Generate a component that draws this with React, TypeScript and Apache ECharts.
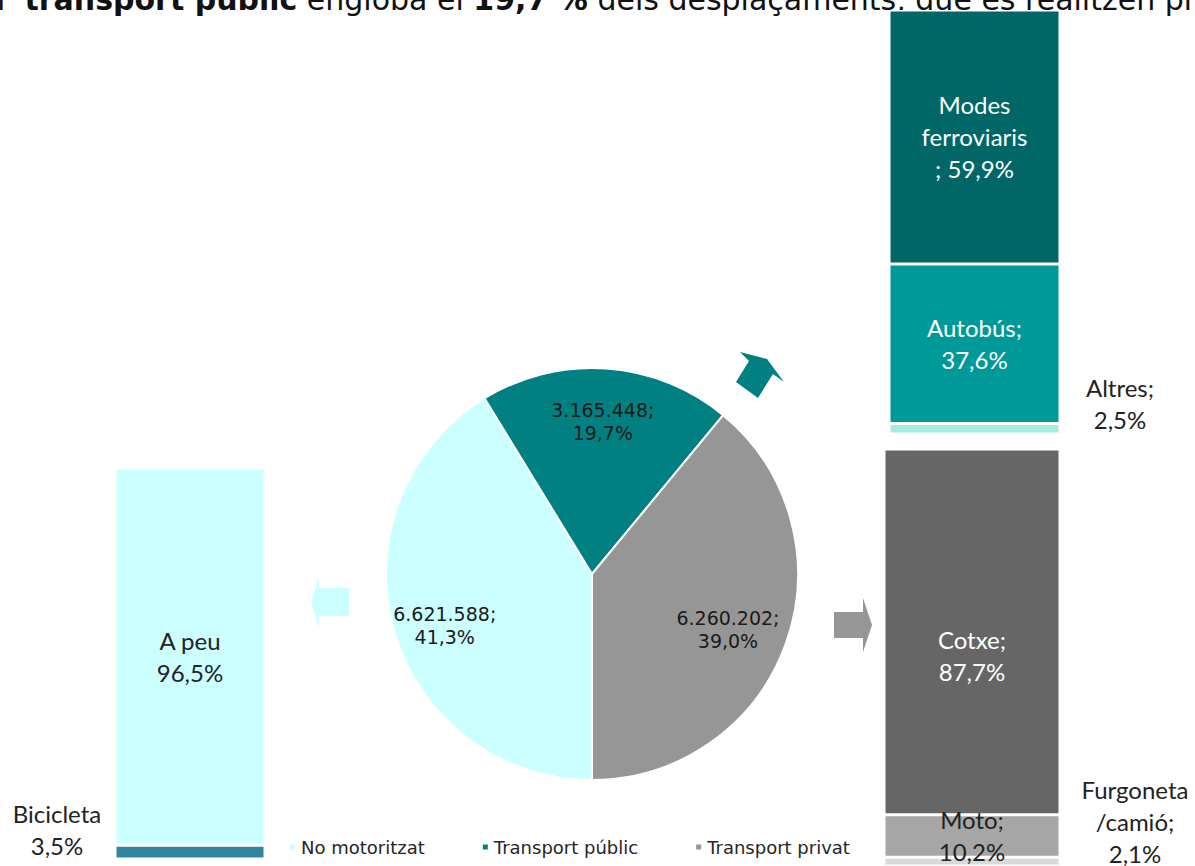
import React, { useEffect, useRef } from "react";
import * as echarts from "echarts";

// ---- Pie data ----
const pieNames = ["No motoritzat", "Transport públic", "Transport privat"];
const pieValues = [6621588, 3165448, 6260202];
const pieColors = ["#CCFFFF", "#008080", "#969696"];

// ---- No motoritzat breakdown (bottom to top) ----
const noMotorNames = ["Bicicleta", "A peu"];
const noMotorValues = [3.5, 96.5];
const noMotorTemplates = ["Bicicleta\n{v}", "A peu\n{v}"];
const noMotorColors = ["#31859C", "#CCFFFF"];

// ---- Transport públic breakdown (bottom to top) ----
const publicNames = ["Altres", "Autobús", "Modes ferroviaris"];
const publicValues = [2.5, 37.6, 59.9];
const publicTemplates = ["Altres;\n{v}", "Autobús;\n{v}", "Modes\nferroviaris\n; {v}"];
const publicColors = ["#A3EDE0", "#009999", "#006666"];

// ---- Transport privat breakdown (bottom to top) ----
const privateNames = ["Furgoneta/camió", "Moto", "Cotxe"];
const privateValues = [2.1, 10.2, 87.7];
const privateTemplates = ["Furgoneta\n/camió;\n{v}", "Moto;\n{v}", "Cotxe;\n{v}"];
const privateColors = ["#D9D9D9", "#A6A6A6", "#666666"];

const fmtPct = (v: number) => v.toFixed(1).replace(".", ",") + "%";
const fmtThousands = (v: number) => String(v).replace(/\B(?=(\d{3})+(?!\d))/g, ".");

const LABEL_FONT = "Lato, 'Open Sans', sans-serif";
const VERDANA = "'DejaVu Sans', Verdana, sans-serif";
const DARK = "#222222";

function buildStack(
  gridIndex: number,
  names: string[],
  values: number[],
  templates: string[],
  colors: string[],
  labelOpts: any[]
) {
  return names.map((n, i) => ({
    type: "bar",
    name: n,
    xAxisIndex: gridIndex,
    yAxisIndex: gridIndex,
    stack: "s" + gridIndex,
    barWidth: "100%",
    data: [values[i]],
    itemStyle: { color: colors[i], borderColor: "#ffffff", borderWidth: 1.5 },
    label: {
      show: true,
      formatter: () => templates[i].replace("{v}", fmtPct(values[i])),
      fontFamily: LABEL_FONT,
      fontSize: 24,
      lineHeight: 32,
      ...labelOpts[i],
    },
    silent: true,
  }));
}

export default function App() {
  const ref = useRef<HTMLDivElement>(null);

  useEffect(() => {
    if (!ref.current) return;
    const chart = echarts.init(ref.current, undefined, { renderer: "svg" });
    const total = pieValues.reduce((a, b) => a + b, 0);

    const grids = [
      { left: 115, top: 468, width: 150, height: 391 },
      { left: 889, top: 10, width: 171, height: 424 },
      { left: 884, top: 449, width: 176, height: 418 },
    ];

    const xAxes = grids.map((_, i) => ({
      type: "category",
      gridIndex: i,
      data: ["x"],
      show: false,
    }));
    const yAxes = grids.map((_, i) => ({
      type: "value",
      gridIndex: i,
      min: 0,
      max: 100,
      show: false,
    }));

    const series: any[] = [
      {
        type: "pie",
        name: "pie",
        center: [592, 574],
        radius: 206,
        startAngle: 270,
        clockwise: true,
        silent: true,
        label: { show: false },
        labelLine: { show: false },
        itemStyle: { borderColor: "#ffffff", borderWidth: 2 },
        data: pieNames.map((n, i) => ({
          name: n,
          value: pieValues[i],
          itemStyle: { color: pieColors[i] },
        })),
      },
      {
        type: "pie",
        name: "pieLabels",
        center: [592, 574],
        radius: [94, 206],
        startAngle: 270,
        clockwise: true,
        silent: true,
        z: 5,
        itemStyle: { color: "rgba(0,0,0,0)", borderWidth: 0 },
        labelLine: { show: false },
        label: {
          show: true,
          position: "inside",
          fontFamily: VERDANA,
          fontSize: 19,
          lineHeight: 23,
          color: "#1a1a1a",
          formatter: (p: any) =>
            fmtThousands(p.value) + ";\n" + fmtPct((p.value / total) * 100),
        },
        data: pieNames.map((n, i) => ({
          name: n,
          value: pieValues[i],
          label: i === 0 ? { offset: [0, 10] } : i === 2 ? { offset: [-8, 4] } : {},
        })),
      },
      ...buildStack(0, noMotorNames, noMotorValues, noMotorTemplates, noMotorColors, [
        { position: "left", align: "center", distance: 58, offset: [0, -23], color: DARK },
        { position: "inside", color: DARK },
      ]),
      ...buildStack(1, publicNames, publicValues, publicTemplates, publicColors, [
        { position: "right", align: "center", distance: 60, offset: [0, -25], color: DARK },
        { position: "inside", color: "#ffffff" },
        { position: "inside", color: "#ffffff" },
      ]),
      ...buildStack(2, privateNames, privateValues, privateTemplates, privateColors, [
        { position: "right", align: "center", distance: 75, offset: [0, -40], color: DARK },
        { position: "inside", color: DARK },
        { position: "inside", color: "#ffffff", offset: [0, 24] },
      ]),
    ];

    chart.setOption({
      animation: false,
      grid: grids,
      xAxis: xAxes,
      yAxis: yAxes,
      legend: {
        show: true,
        selectedMode: false,
        left: 283,
        top: 833,
        icon: "rect",
        itemWidth: 7,
        itemHeight: 7,
        itemGap: 56,
        textStyle: {
          fontFamily: VERDANA,
          fontSize: 18,
          color: "#262626",
        },
        data: pieNames.map((n, i) => ({ name: n, itemStyle: { color: pieColors[i] } })),
      },
      graphic: [
        {
          type: "text",
          x: -3,
          y: -1,
          style: {
            text:
              "{r|l  }{b|transport públic}{r| engloba el }{b|19,7 %}{r| dels desplaçaments, que es realitzen pr}",
            verticalAlign: "middle",
            rich: {
              r: {
                fontFamily: VERDANA,
                fontSize: 30,
                fill: "#111111",
              },
              b: {
                fontFamily: VERDANA,
                fontSize: 30,
                fontWeight: "bold",
                fill: "#111111",
              },
            },
          },
        },
        {
          type: "polygon",
          shape: {
            points: [[311, 602], [319, 577], [319, 588], [349, 588], [349, 616], [319, 616], [319, 628]],
          },
          style: { fill: "#CCFFFF" },
        },
        {
          type: "polygon",
          shape: {
            points: [[872, 625], [863, 598], [863, 612], [834, 612], [834, 638], [863, 638], [863, 652]],
          },
          style: { fill: "#969696" },
        },
        {
          type: "polygon",
          shape: {
            points: [[767, 359], [784, 382], [773, 374], [758, 398], [736, 382], [749, 361], [740, 352]],
          },
          style: { fill: "#008080" },
        },
      ],
      series,
    });

    return () => chart.dispose();
  }, []);

  return (
    <div
      ref={ref}
      style={{ position: "absolute", left: 0, top: 0, width: 1195, height: 866, background: "#ffffff" }}
    />
  );
}
